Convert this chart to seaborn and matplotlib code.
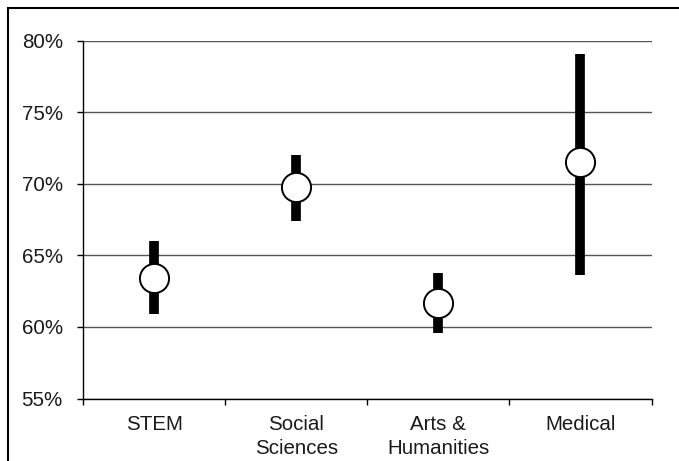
import matplotlib
matplotlib.use("Agg")
import matplotlib.pyplot as plt
from matplotlib.patches import Rectangle
from matplotlib.ticker import FuncFormatter
import seaborn as sns
import pandas as pd

# Completion rate by field of study: point estimate with its range
categories = ["STEM", "Social\nSciences", "Arts &\nHumanities", "Medical"]
estimate = [63.4, 69.8, 61.7, 71.5]
range_low = [60.9, 67.4, 59.6, 63.6]
range_high = [66.0, 72.0, 63.8, 79.1]
y_ticks = [55, 60, 65, 70, 75, 80]

df = pd.DataFrame({"field": categories, "estimate": estimate,
                   "low": range_low, "high": range_high})

sns.set_theme(style="white")
plt.rcParams["font.family"] = ["Liberation Sans", "DejaVu Sans"]
plt.rcParams["text.color"] = "#1a1a1a"

W, H = 679, 461
fig = plt.figure(figsize=(W / 100, H / 100), dpi=100)
ax = fig.add_axes([83 / W, 1 - 398.5 / H, (651.5 - 83) / W, (398.5 - 40.7) / H])

# thick range bars
ax.vlines(df["field"], df["low"], df["high"], colors="black",
          linewidth=7, capstyle="butt", zorder=3)

# open circle markers at the estimate
sns.scatterplot(data=df, x="field", y="estimate", ax=ax, s=440,
                color="white", edgecolor="black", linewidth=1.4,
                zorder=4, legend=False)

ax.set_xlim(-0.5, len(categories) - 0.5)
ax.set_ylim(y_ticks[0], y_ticks[-1])
ax.set_yticks(y_ticks)
ax.yaxis.set_major_formatter(FuncFormatter(lambda v, _: f"{v:.0f}%"))
ax.set_xticks(range(len(categories)))
ax.set_xticklabels(categories)
ax.set_xticks([i - 0.5 for i in range(len(categories) + 1)], minor=True)
ax.set_xlabel("")
ax.set_ylabel("")

ax.set_axisbelow(True)
ax.yaxis.grid(True, color="#555555", linewidth=1.0)
ax.xaxis.grid(False)

for side in ("top", "right"):
    ax.spines[side].set_visible(False)
for side in ("left", "bottom"):
    ax.spines[side].set_color("black")
    ax.spines[side].set_linewidth(1.0)

ax.tick_params(axis="y", which="major", left=True, direction="out",
               length=4.5, width=1.0, color="black", pad=10,
               labelsize=14.8, labelcolor="#1a1a1a")
ax.tick_params(axis="x", which="major", bottom=True, length=0, pad=12,
               labelsize=14.8, labelcolor="#1a1a1a")
ax.tick_params(axis="x", which="minor", bottom=True, direction="out",
               length=4.5, width=1.0, color="black")
for lbl in ax.get_xticklabels():
    lbl.set_linespacing(1.3)

# outer frame around the whole figure
fig.patches.append(Rectangle((8 / W, -0.1), 1.2, 1 - 7.5 / H + 0.1,
                             transform=fig.transFigure, fill=False,
                             edgecolor="black", linewidth=1.5))

fig.savefig("out.png", dpi=100)
